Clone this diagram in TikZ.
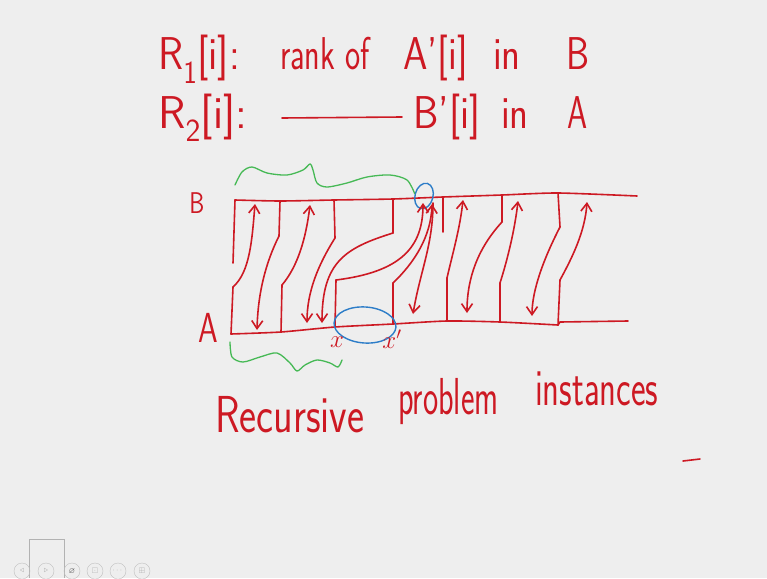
\documentclass[tikz,border=0pt]{standalone}
\usepackage{fontspec}
\usepackage{xcolor}
\usepackage{tikz}
\usepackage{amsmath,amssymb}
\usetikzlibrary{shapes.geometric, arrows.meta, positioning}
\definecolor{inkred}{RGB}{205, 25, 35}
\definecolor{inkgreen}{RGB}{70, 185, 85}
\definecolor{inkblue}{RGB}{45, 125, 200}
\definecolor{slidegray}{RGB}{238, 238, 238}

\begin{document}
\begin{tikzpicture}[x=1pt, y=-1pt]
  \tikzstyle{hand} = [text=inkred, font=\sffamily\fontsize{46}{46}\selectfont, anchor=base west, inner sep=0pt]
  \tikzstyle{bighand} = [hand, font=\sffamily\fontsize{52}{52}\selectfont]
  \tikzstyle{redline} = [draw=inkred, line width=1.6pt, line cap=round, line join=round]
  \tikzstyle{arrow} = [redline, -{Straight Barb[length=8pt,width=11pt]}]
  \tikzstyle{brace} = [draw=inkgreen, line width=1.3pt, line cap=round]
  \tikzstyle{ring} = [ellipse, draw=inkblue, line width=1.4pt, inner sep=0pt]
  \tikzstyle{navbtn} = [circle, draw=gray!50, minimum size=16pt, inner sep=0pt, text=gray!65, font=\fontsize{8}{8}\selectfont]

  \fill[slidegray] (0,0) rectangle (767,578);
  \useasboundingbox (0,0) rectangle (767,578);

  \node (r1) [hand, xscale=0.9] at (158,70) {R\textsubscript{1}[i]:};
  \node (rankof) [hand, xscale=0.7] at (280,70) {rank of};
  \node (aprime) [hand, xscale=0.85] at (403,70) {A'[i]};
  \node (in1) [hand, xscale=0.85] at (493,70) {in};
  \node (setb) [hand, xscale=0.8] at (566,70) {B};

  \node (r2) [hand, xscale=0.98] at (158,128) {R\textsubscript{2}[i]:};
  \node (bprime) [hand, xscale=0.88] at (413,128) {B'[i]};
  \node (in2) [hand, xscale=0.85] at (501,128) {in};
  \node (seta) [hand, xscale=0.7] at (567,128) {A};
  \draw[redline] (282,118) -- (402,117);

  \node (lblb) [text=inkred, font=\sffamily\fontsize{30}{30}\selectfont, xscale=0.8] at (197,203) {B};
  \node (lbla) [text=inkred, font=\sffamily\fontsize{42}{42}\selectfont, xscale=0.75] at (208,328) {A};

  \coordinate (Bp1) at (235,200); \coordinate (Bp2) at (280,201);
  \coordinate (Bp3) at (334,200); \coordinate (Bp4) at (393,199);
  \coordinate (Bp5) at (443,197); \coordinate (Bp6) at (502,195);
  \coordinate (Bp7) at (558,193); \coordinate (Bend) at (637,196);
  \coordinate (Ap1) at (231,334); \coordinate (Ap2) at (281,332);
  \coordinate (Ap3) at (335,327); \coordinate (Ap4) at (393,324);
  \coordinate (Ap5) at (447,321); \coordinate (Ap6) at (500,322);
  \coordinate (Ap7) at (558,325); \coordinate (Astep) at (560,322);
  \coordinate (Aend) at (628,321);

  \coordinate (Ht1) at (233,263); \coordinate (Ht2) at (279,236);
  \coordinate (Ht3) at (335,238); \coordinate (Ht4) at (393,233);
  \coordinate (Ht5) at (443,232); \coordinate (Ht6) at (502,222);
  \coordinate (Ht7) at (560,227);
  \coordinate (Rs1) at (233,287); \coordinate (Rs2) at (282,285);
  \coordinate (Rs3) at (336,280); \coordinate (Rs4) at (393,283);
  \coordinate (Rs5) at (447,278); \coordinate (Rs6) at (500,283);
  \coordinate (Rs7) at (560,280);

  \draw[redline] plot[smooth, tension=0.4] coordinates {(Bp1) (Bp2) (Bp3) (Bp4) (Bp5) (Bp6) (Bp7) (Bend)};
  \draw[redline] plot[smooth, tension=0.4] coordinates {(Ap1) (Ap2) (Ap3) (Ap4) (Ap5) (Ap6) (Ap7)};
  \draw[redline] (Ap7) -- (Astep) -- (Aend);
  \foreach \n in {1,...,7} {
    \draw[redline] (Bp\n) -- (Ht\n);
    \draw[redline] (Ap\n) -- (Rs\n);
  }

  \node (hitb) [ring, minimum width=18pt, minimum height=26pt, rotate=-15] at (424,196) {};
  \node (runa) [ring, minimum width=62pt, minimum height=36pt, rotate=-4] at (365,325) {};

  \coordinate (Cs) at (433,203);
  \draw[arrow] (Ht2) .. controls (266,262) and (258,292) .. (257,330);
  \draw[arrow] (Ht3) .. controls (318,265) and (307,292) .. (307,323);
  \draw[arrow] (Ht4) .. controls (345,248) and (322,262) .. (322,323);
  \draw[arrow] (Cs) .. controls (433,245) and (420,272) .. (413,314);
  \draw[arrow] (Ht6) .. controls (478,248) and (467,278) .. (467,313);
  \draw[arrow] (Ht7) .. controls (544,258) and (532,290) .. (532,316);
  \draw[arrow] (Rs1) .. controls (250,272) and (252,240) .. (255,204);
  \draw[arrow] (Rs2) .. controls (298,266) and (306,238) .. (310,205);
  \draw[arrow] (Rs3) .. controls (400,272) and (423,248) .. (423,203);
  \draw[arrow] (Rs4) .. controls (415,262) and (431,236) .. (432,204);
  \draw[arrow] (Rs5) .. controls (453,252) and (460,228) .. (463,200);
  \draw[arrow] (Rs6) .. controls (508,258) and (515,228) .. (518,201);
  \draw[arrow] (Rs7) .. controls (572,258) and (585,232) .. (587,202);

  \draw[brace] plot[smooth] coordinates {(235,185) (242,172) (252,167) (267,173) (287,175) (303,170) (310,164) (313,170) (317,183) (327,187) (347,183) (367,177) (390,175) (407,180) (hitb.west)};
  \draw[brace] plot[smooth] coordinates {(230,342) (232,357) (243,362) (260,357) (277,353) (290,363) (297,371) (305,365) (317,360) (330,363) (338,367) (342,360)};

  \node (xl) [text=inkred, font=\fontsize{27}{27}\selectfont] at (337,342) {$x$};
  \node (xr) [text=inkred, font=\fontsize{27}{27}\selectfont] at (392,339) {$x'$};

  \node (rec) [bighand, xscale=0.78] at (215,432) {Recursive};
  \node (prob) [bighand, xscale=0.62] at (398,414) {problem};
  \node (inst) [bighand, xscale=0.67] at (535,405) {instances};
  \draw[redline] (683,461) -- (700,459);

  \draw[gray!60, line width=0.8pt] (29,578) -- (29,539) -- (64,539) -- (64,578);
  \node (nav1) [navbtn] at (22,571) {$\triangleleft$};
  \node (nav2) [navbtn] at (46,571) {$\triangleright$};
  \node (nav3) [navbtn, text=black!80] at (72,571) {$\varnothing$};
  \node (nav4) [navbtn] at (95,571) {$\boxdot$};
  \node (nav5) [navbtn] at (118,571) {$\cdots$};
  \node (nav6) [navbtn] at (142,571) {$\boxplus$};
\end{tikzpicture}
\end{document}
